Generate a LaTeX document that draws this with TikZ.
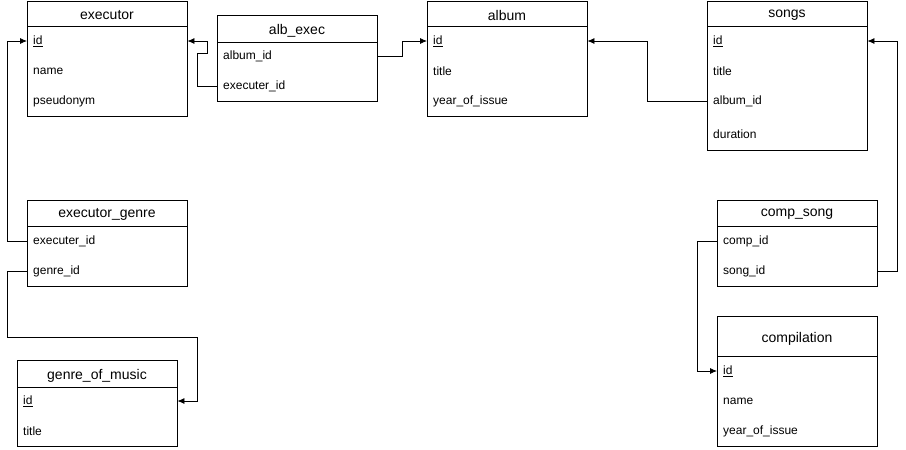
\documentclass[tikz,border=0pt]{standalone}
\usepackage{fontspec}
\setmainfont{Liberation Sans}
\usetikzlibrary{arrows.meta}
\newcommand{\fsz}{\fontsize{12pt}{14pt}\selectfont}
\newcommand{\tsz}{\fontsize{14pt}{16pt}\selectfont}
\begin{document}
\begin{tikzpicture}[x={(1pt,0)},y={(0,-1pt)},
  tbl/.style={draw, line width=0.8pt, minimum width=160pt, inner sep=0pt, anchor=north west},
  fld/.style={anchor=west, text width=148pt, inner xsep=6pt, inner ysep=0pt, minimum height=24pt, align=left, font=\fsz, yshift=-1pt},
  ttl/.style={font=\tsz, anchor=center, inner sep=0pt, yshift=-1.5pt},
  hdr/.style={line width=0.8pt},
  conn/.style={-{Latex[length=7pt,width=6pt]}, line width=0.8pt},
]
\useasboundingbox (0,0) rectangle (906,450);
\fill[white] (0,0) rectangle (906,450);

% executor
\node[tbl, minimum height=115pt] (ex) at (27,1) {};
\node[ttl] (ex-t) at (107,14) {executor};
\draw[hdr] (27,26) -- (187,26);
\node[fld] (ex-id) at (27,40) {\underline{id}};
\node[fld] (ex-name) at (27,70) {name};
\node[fld] (ex-ps) at (27,100) {pseudonym};

% alb_exec
\node[tbl, minimum height=86pt] (ae) at (217,15) {};
\node[ttl] (ae-t) at (297,29) {alb\_exec};
\draw[hdr] (217,42) -- (377,42);
\node[fld] (ae-alb) at (217,55) {album\_id};
\node[fld] (ae-exe) at (217,85) {executer\_id};

% album
\node[tbl, minimum height=115pt] (al) at (427,1) {};
\node[ttl] (al-t) at (507,14) {album};
\draw[hdr] (427,26) -- (587,26);
\node[fld] (al-id) at (427,40) {\underline{id}};
\node[fld] (al-title) at (427,70) {title};
\node[fld] (al-year) at (427,100) {year\_of\_issue};

% songs
\node[tbl, minimum height=149pt] (so) at (707,1) {};
\node[ttl] (so-t) at (787,14) {songs};
\draw[hdr] (707,26) -- (867,26);
\node[fld] (so-id) at (707,40) {\underline{id}};
\node[fld] (so-title) at (707,70) {title};
\node[fld] (so-alb) at (707,100) {album\_id};
\node[fld] (so-dur) at (707,133) {duration};

% executor_genre
\node[tbl, minimum height=86pt] (eg) at (27,200) {};
\node[ttl] (eg-t) at (107,213) {executor\_genre};
\draw[hdr] (27,226) -- (187,226);
\node[fld] (eg-exe) at (27,240) {executer\_id};
\node[fld] (eg-gen) at (27,270) {genre\_id};

% genre_of_music
\node[tbl, minimum height=86pt] (gm) at (17,360) {};
\node[ttl] (gm-t) at (97,374) {genre\_of\_music};
\draw[hdr] (17,387) -- (177,387);
\node[fld] (gm-id) at (17,400) {\underline{id}};
\node[fld] (gm-title) at (17,430) {title};

% comp_song
\node[tbl, minimum height=86pt] (cs) at (717,200) {};
\node[ttl] (cs-t) at (797,213) {comp\_song};
\draw[hdr] (717,226) -- (877,226);
\node[fld] (cs-comp) at (717,240) {comp\_id};
\node[fld] (cs-song) at (717,270) {song\_id};

% compilation
\node[tbl, minimum height=130pt] (cp) at (717,316) {};
\node[ttl] (cp-t) at (797,337) {compilation};
\draw[hdr] (717,356) -- (877,356);
\node[fld] (cp-id) at (717,370) {\underline{id}};
\node[fld] (cp-name) at (717,400) {name};
\node[fld] (cp-year) at (717,430) {year\_of\_issue};

% connectors
\draw[conn] (ae-exe.west) -- ++(-20,0) -- ++(0,-33) -- ++(10,0) |- (ex-id.east);
\draw[conn] (ae-alb.east) -- ++(25,0) |- (al-id.west);
\draw[conn] (so-alb.west) -- ++(-60,0) |- (al-id.east);
\draw[conn] (cs-song.east) -- ++(20,0) |- (so-id.east);
\draw[conn] (cs-comp.west) -- ++(-20,0) |- (cp-id.west);
\draw[conn] (eg-exe.west) -- ++(-20,0) |- (ex-id.west);
\draw[conn] (eg-gen.west) -- ++(-20,0) -- ++(0,66) -- ++(190,0) |- (gm-id.east);
\end{tikzpicture}
\end{document}
